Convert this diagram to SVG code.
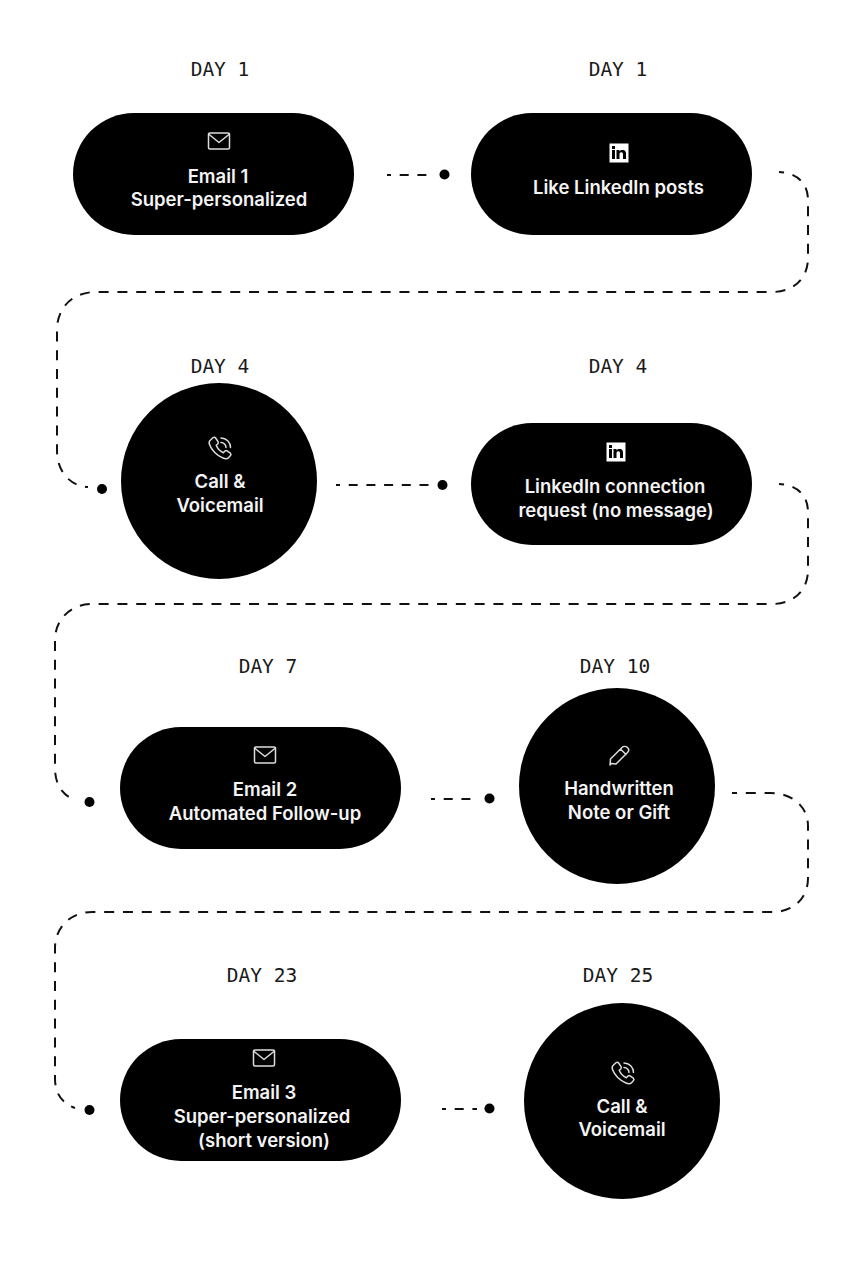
<svg xmlns="http://www.w3.org/2000/svg" width="866" height="1280" viewBox="0 0 866 1280">
<style>
.day{font-family:"DejaVu Sans Mono",monospace;font-size:19.5px;fill:#1a1a1a;text-anchor:middle}
.lbl{font-family:Inter,"Liberation Sans",sans-serif;font-size:18.5px;font-weight:600;fill:#f4f4f4;text-anchor:middle}
.shape{fill:#000}
.con{fill:none;stroke:#111;stroke-width:2;stroke-dasharray:10 8.800;stroke-dashoffset:5}
.short{stroke-dasharray:9 8.700;stroke-dashoffset:5}
.dot{fill:#000}
.ico{fill:none;stroke:#ddd;stroke-width:1.5;stroke-linejoin:round;stroke-linecap:round}
</style>
<defs>
<g id="mail"><rect x="-10.500" y="-8" width="21" height="16" rx="1.500" class="ico"/><path d="M-10.500-7L0 1.500L10.500-7" class="ico"/></g>
<g id="in"><rect x="-9.500" y="-9.500" width="19" height="19" fill="#fff"/><rect x="-7" y="-3" width="3" height="9" fill="#000"/><rect x="-7" y="-7" width="3" height="3" fill="#000"/><path d="M-2.500-3H.5V-1.500C1.500-3 3-3.300 4.500-3C6.500-2.500 7-1 7 1V6H4V1.500C4 0 3.500-.8 2.300-.8C1-.8 .5 0 .5 1.500V6H-2.500Z" fill="#000"/></g>
<g id="phone"><path d="M-9.500-8L-7-10.300C-6-11-5-10.800-4.400-10L-2-6.300C-1.500-5.500-1.600-4.700-2.300-4L-3.800-2.700C-2.500 .5 .5 3.500 3.300 4.700L4.800 3.200C5.500 2.500 6.300 2.400 7.100 2.900L10.300 5.200C11.100 5.900 11.200 6.800 10.500 7.600L8.500 9.700C7.500 10.700 5.500 11 3 10C-3 8-8.500 2-10.500-3.500C-11.200-5.500-10.800-7-9.500-8Z" class="ico"/><path d="M1-10A9.500 9.500 0 0 1 10.500-.5M1-5.500A5 5 0 0 1 6-.5" class="ico"/></g>
</defs>
<rect width="866" height="1280" fill="#fff"/>
<g id="connectors">
<path class="con short" d="M387 175H431"/>
<path class="con" d="M779 172C798 173 808 184 808 200V258C808 278 794 292 772 292H96C72 292 57 308 57 330V450C57 472 70 486 88 487"/>
<path class="con short" d="M336 485H430"/>
<path class="con" d="M779 484C798 485 808 496 808 512V570C808 590 794 604 772 604H92C70 604 55 620 55 640V768C55 784 62 795 75 800"/>
<path class="con short" d="M431 799H476"/>
<path class="con" d="M732 793H770C794 793 808 808 808 826V878C808 898 794 912 772 912H92C70 912 55 928 55 948V1078C55 1094 62 1103 75 1108"/>
<path class="con short" d="M442 1109H477"/>
<circle class="dot" cx="444.500" cy="174.500" r="5"/>
<circle class="dot" cx="102" cy="489" r="5"/>
<circle class="dot" cx="442.500" cy="485" r="5"/>
<circle class="dot" cx="89.500" cy="802" r="5"/>
<circle class="dot" cx="489.500" cy="798.500" r="5"/>
<circle class="dot" cx="89.500" cy="1110" r="5"/>
<circle class="dot" cx="489.500" cy="1108.500" r="5"/>
</g>
<g id="node1"><text class="day" x="220" y="76">DAY 1</text><rect class="shape" x="73" y="113" width="281" height="122" rx="61"/><use href="#mail" x="219" y="141"/><text class="lbl" x="218" y="182.500">Email 1</text><text class="lbl" x="219" y="205.500">Super-personalized</text></g>
<g id="node2"><text class="day" x="618" y="76">DAY 1</text><rect class="shape" x="471" y="113" width="281" height="122" rx="61"/><use href="#in" x="619" y="153"/><text class="lbl" x="618.500" y="194">Like LinkedIn posts</text></g>
<g id="node3"><text class="day" x="220" y="373">DAY 4</text><circle class="shape" cx="219" cy="481" r="98"/><use href="#phone" x="220" y="448"/><text class="lbl" x="220" y="487.500">Call &amp;</text><text class="lbl" x="220" y="511.500">Voicemail</text></g>
<g id="node4"><text class="day" x="618" y="373">DAY 4</text><rect class="shape" x="471" y="423" width="281" height="122" rx="61"/><use href="#in" x="616" y="452"/><text class="lbl" x="615" y="492.500">LinkedIn connection</text><text class="lbl" x="616" y="516.500">request (no message)</text></g>
<g id="node5"><text class="day" x="268" y="673">DAY 7</text><rect class="shape" x="120" y="727" width="281" height="122" rx="61"/><use href="#mail" x="265" y="755"/><text class="lbl" x="265" y="795.500">Email 2</text><text class="lbl" x="265" y="819.500">Automated Follow-up</text></g>
<g id="node6"><text class="day" x="615" y="673">DAY 10</text><circle class="shape" cx="617" cy="786" r="98"/><path class="ico" d="M611 763.500L610 765L610.500 759L622 747.500C623.500 746 626 746 627.500 747.500C629 749 629 751 627.500 752.500L616 764ZM620.500 749L626 754.500"/><text class="lbl" x="619" y="794.500">Handwritten</text><text class="lbl" x="619" y="818.500">Note or Gift</text></g>
<g id="node7"><text class="day" x="262" y="982">DAY 23</text><rect class="shape" x="120" y="1039" width="281" height="122" rx="61"/><use href="#mail" x="264" y="1058"/><text class="lbl" x="264" y="1098.500">Email 3</text><text class="lbl" x="262" y="1122.500">Super-personalized</text><text class="lbl" x="264" y="1146.500">(short version)</text></g>
<g id="node8"><text class="day" x="618" y="982">DAY 25</text><circle class="shape" cx="622" cy="1101" r="98"/><use href="#phone" x="623" y="1073"/><text class="lbl" x="622" y="1112.500">Call &amp;</text><text class="lbl" x="622" y="1135.500">Voicemail</text></g>
</svg>
